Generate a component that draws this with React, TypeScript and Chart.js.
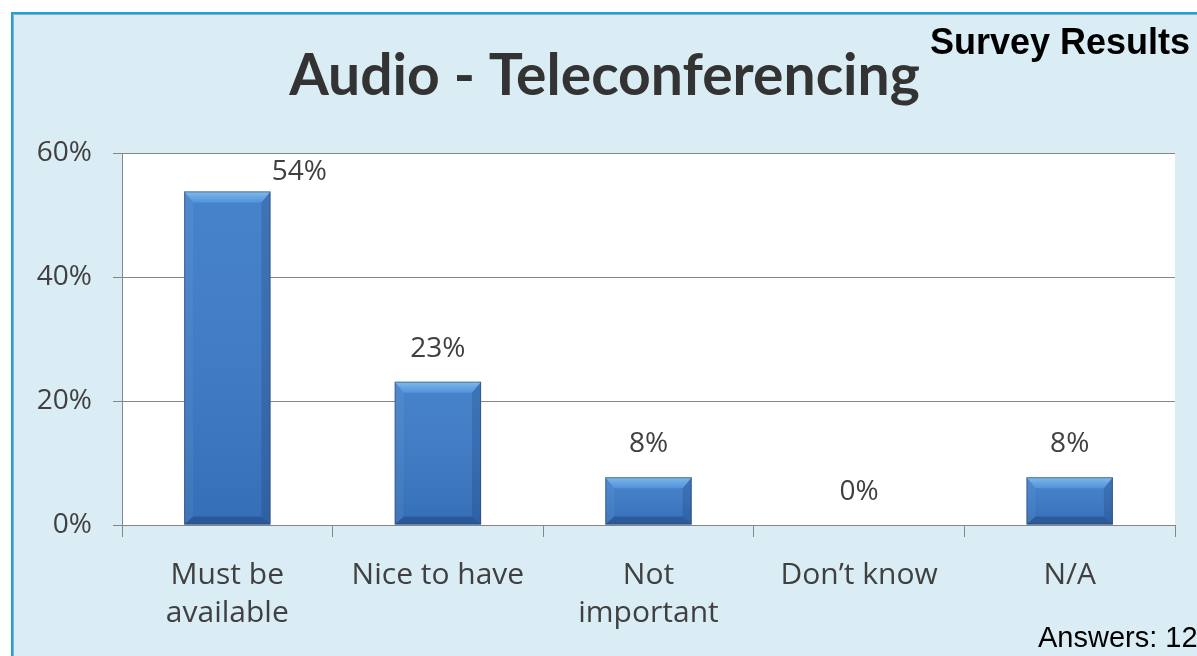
import React, { useEffect, useRef } from "react";
import { Chart, registerables } from "chart.js";

Chart.register(...registerables);

const categories: (string | string[])[] = [
  ["Must be", "available"],
  "Nice to have",
  ["Not", "important"],
  "Don’t know",
  "N/A",
];
const values = [53.8, 23.1, 7.7, 0, 7.7];
const valueLabels = ["54%", "23%", "8%", "0%", "8%"];
const yMax = 60;
const yStep = 20;

const TEXT_FONT = "'Open Sans', 'Noto Sans', sans-serif";
const TITLE_FONT = "Lato, 'Open Sans', sans-serif";

const plotBg = {
  id: "plotBg",
  beforeDraw(chart: any) {
    const { ctx, chartArea } = chart;
    ctx.save();
    ctx.fillStyle = "#ffffff";
    ctx.fillRect(chartArea.left, chartArea.top, chartArea.right - chartArea.left, chartArea.bottom - chartArea.top);
    ctx.restore();
  },
};

const bevel = {
  id: "bevel",
  afterDatasetsDraw(chart: any) {
    const ctx = chart.ctx;
    const meta = chart.getDatasetMeta(0);
    meta.data.forEach((bar: any) => {
      const { x, y, base, width } = bar.getProps(["x", "y", "base", "width"], true);
      const l = x - width / 2;
      const r = x + width / 2;
      const t = Math.min(y, base);
      const b = Math.max(y, base);
      const h = b - t;
      if (h < 1) return;
      const bt = Math.min(11, h / 2);
      const bs = Math.min(9, width / 2);
      const bb = Math.min(8, h / 3);
      ctx.save();
      // face shading
      const g = ctx.createLinearGradient(0, t, 0, b);
      g.addColorStop(0, "rgba(255,255,255,0.06)");
      g.addColorStop(1, "rgba(0,0,30,0.10)");
      ctx.fillStyle = g;
      ctx.fillRect(l, t, width, h);
      // left bevel
      ctx.beginPath();
      ctx.moveTo(l, t);
      ctx.lineTo(l + bs, t + bt);
      ctx.lineTo(l + bs, b - bb);
      ctx.lineTo(l, b);
      ctx.closePath();
      ctx.fillStyle = "rgba(255,255,255,0.05)";
      ctx.fill();
      // right bevel
      ctx.beginPath();
      ctx.moveTo(r, t);
      ctx.lineTo(r - bs, t + bt);
      ctx.lineTo(r - bs, b - bb);
      ctx.lineTo(r, b);
      ctx.closePath();
      ctx.fillStyle = "rgba(0,0,30,0.12)";
      ctx.fill();
      // bottom bevel
      ctx.beginPath();
      ctx.moveTo(l, b);
      ctx.lineTo(l + bs, b - bb);
      ctx.lineTo(r - bs, b - bb);
      ctx.lineTo(r, b);
      ctx.closePath();
      ctx.fillStyle = "rgba(0,0,30,0.20)";
      ctx.fill();
      // top bevel
      ctx.beginPath();
      ctx.moveTo(l, t);
      ctx.lineTo(r, t);
      ctx.lineTo(r - bs, t + bt);
      ctx.lineTo(l + bs, t + bt);
      ctx.closePath();
      const gt = ctx.createLinearGradient(0, t, 0, t + bt);
      gt.addColorStop(0, "rgba(160,220,255,0.65)");
      gt.addColorStop(1, "rgba(120,190,255,0.30)");
      ctx.fillStyle = gt;
      ctx.fill();
      // outline
      ctx.strokeStyle = "rgba(50,70,100,0.55)";
      ctx.lineWidth = 1;
      ctx.strokeRect(l + 0.5, t + 0.5, width - 1, h - 1);
      ctx.restore();
    });
  },
};

const dataLabels = {
  id: "dataLabels",
  afterDatasetsDraw(chart: any, _args: any, opts: any) {
    const ctx = chart.ctx;
    const meta = chart.getDatasetMeta(0);
    ctx.save();
    ctx.font = `28px ${TEXT_FONT}`;
    ctx.fillStyle = "#404040";
    ctx.textAlign = "center";
    ctx.textBaseline = "middle";
    meta.data.forEach((bar: any, i: number) => {
      const { x, y } = bar.getProps(["x", "y"], true);
      const shift = opts.shifts && opts.shifts[i] ? opts.shifts[i] : [0, opts.gap];
      ctx.fillText(valueLabels[i], x + shift[0], y + shift[1]);
    });
    ctx.restore();
  },
};

export default function App() {
  const ref = useRef<HTMLCanvasElement | null>(null);

  useEffect(() => {
    document.body.style.margin = "0";
    if (!ref.current) return;
    const chart = new Chart(ref.current, {
      type: "bar",
      data: {
        labels: categories,
        datasets: [
          {
            data: values,
            backgroundColor: "#3b7bc8",
            borderWidth: 0,
            barPercentage: 0.41,
            categoryPercentage: 1,
          },
        ],
      },
      options: {
        responsive: false,
        animation: false,
        events: [],
        layout: { padding: { left: 0, right: 22, top: 0, bottom: 0 } },
        plugins: {
          legend: { display: false },
          tooltip: { enabled: false },
          title: {
            display: true,
            text: "Audio - Teleconferencing",
            color: "#333333",
            font: { family: TITLE_FONT, size: 57, weight: "bold", lineHeight: 1.2 },
            padding: { top: 42, bottom: 42.6 },
          },
          dataLabels: { gap: -33, shifts: { 0: [72, -19] } },
        } as any,
        scales: {
          x: {
            offset: true,
            grid: {
              offset: true,
              drawOnChartArea: false,
              drawTicks: true,
              tickLength: 12,
              color: "#868686",
            },
            border: { display: true, color: "#868686" },
            ticks: {
              color: "#404040",
              padding: 19,
              font: { family: TEXT_FONT, size: 30, lineHeight: 1.27 },
              maxRotation: 0,
              autoSkip: false,
            },
            afterFit(scale: any) {
              scale.height = 131;
            },
          },
          y: {
            min: 0,
            max: yMax,
            ticks: {
              stepSize: yStep,
              color: "#404040",
              padding: 21,
              font: { family: TEXT_FONT, size: 28 },
              callback: (v: any) => `${v}%`,
            },
            grid: { color: "#868686", tickLength: 9, drawTicks: true },
            border: { display: true, color: "#868686" },
            afterFit(scale: any) {
              scale.width = 88;
            },
          },
        },
      },
      plugins: [plotBg, bevel, dataLabels],
    });
    return () => chart.destroy();
  }, []);

  return (
    <div
      style={{
        position: "relative",
        width: 1197,
        height: 656,
        overflow: "hidden",
        background: "#ffffff",
      }}
    >
      <div
        style={{
          position: "absolute",
          left: 11,
          top: 12,
          right: 0,
          bottom: 0,
          background: "#dbedf4",
          borderTop: "2px solid #1aa3dd",
          borderLeft: "2px solid #1aa3dd",
          boxShadow: "inset 1px 1px 0 #9aaab4",
        }}
      />
      <canvas
        ref={ref}
        width={1163}
        height={656}
        style={{ position: "absolute", left: 34, top: 0, width: 1163, height: 656 }}
      />
      <div
        style={{
          position: "absolute",
          left: 930,
          top: 24,
          font: "bold 36px 'Liberation Sans', Arial, sans-serif",
          lineHeight: 1,
          color: "#000",
          whiteSpace: "nowrap",
        }}
      >
        Survey Results
      </div>
      <div
        style={{
          position: "absolute",
          left: 1038,
          top: 623,
          font: "29px 'Liberation Sans', Arial, sans-serif",
          lineHeight: 1,
          color: "#000",
          whiteSpace: "nowrap",
        }}
      >
        Answers: 12
      </div>
    </div>
  );
}
